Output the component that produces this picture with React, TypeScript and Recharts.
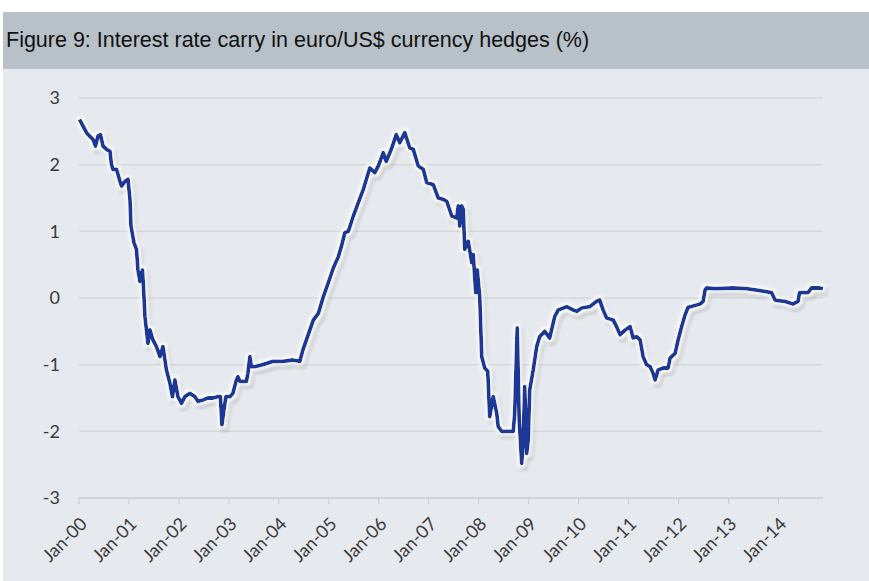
import { CartesianGrid, Line, LineChart, XAxis, YAxis } from "recharts";

// fractional years
const dates = [
  2000.01, 2000.08, 2000.15, 2000.21, 2000.28, 2000.33, 2000.38, 2000.43, 2000.48, 2000.55,
  2000.62, 2000.65, 2000.68, 2000.75, 2000.82, 2000.85, 2000.92, 2000.98, 2001.02, 2001.04,
  2001.1, 2001.15, 2001.18, 2001.22, 2001.27, 2001.29, 2001.32, 2001.35, 2001.38, 2001.42,
  2001.48, 2001.55, 2001.62, 2001.68, 2001.75, 2001.82, 2001.87, 2001.92, 2001.98, 2002.05,
  2002.12, 2002.22, 2002.32, 2002.38, 2002.48, 2002.58, 2002.68, 2002.78, 2002.83, 2002.86,
  2002.9, 2002.94, 2003.02, 2003.08, 2003.15, 2003.18, 2003.22, 2003.35, 2003.38, 2003.42,
  2003.45, 2003.52, 2003.68, 2003.88, 2004.08, 2004.28, 2004.42, 2004.48, 2004.55, 2004.69,
  2004.79, 2004.89, 2004.99, 2005.09, 2005.19, 2005.25, 2005.32, 2005.39, 2005.49, 2005.59,
  2005.69, 2005.82, 2005.92, 2005.99, 2006.09, 2006.15, 2006.25, 2006.35, 2006.42, 2006.52,
  2006.62, 2006.69, 2006.79, 2006.89, 2006.96, 2007.09, 2007.19, 2007.29, 2007.36, 2007.46,
  2007.56, 2007.59, 2007.62, 2007.66, 2007.69, 2007.72, 2007.79, 2007.86, 2007.89, 2007.94,
  2007.97, 2008.02, 2008.06, 2008.12, 2008.18, 2008.22, 2008.29, 2008.36, 2008.39, 2008.46,
  2008.56, 2008.69, 2008.72, 2008.77, 2008.81, 2008.86, 2008.89, 2008.92, 2008.96, 2008.99,
  2009.02, 2009.09, 2009.16, 2009.22, 2009.32, 2009.42, 2009.52, 2009.59, 2009.76, 2009.89,
  2009.96, 2010.06, 2010.22, 2010.36, 2010.42, 2010.49, 2010.56, 2010.69, 2010.76, 2010.83,
  2010.93, 2011.03, 2011.09, 2011.16, 2011.23, 2011.29, 2011.36, 2011.43, 2011.49, 2011.53,
  2011.59, 2011.69, 2011.79, 2011.83, 2011.93, 2011.99, 2012.06, 2012.13, 2012.19, 2012.29,
  2012.43, 2012.49, 2012.53, 2012.56, 2012.73, 2013.09, 2013.36, 2013.63, 2013.86, 2013.93,
  2013.99, 2014.13, 2014.29, 2014.39, 2014.42, 2014.59, 2014.66, 2014.82, 2014.89,
];

const carry = [
  2.68, 2.58, 2.48, 2.43, 2.38, 2.28, 2.43, 2.45, 2.28, 2.23,
  2.2, 2.0, 1.93, 1.93, 1.75, 1.68, 1.75, 1.78, 1.48, 1.08,
  0.83, 0.73, 0.42, 0.25, 0.42, 0.17, -0.28, -0.48, -0.68, -0.48,
  -0.63, -0.73, -0.88, -0.73, -1.08, -1.28, -1.48, -1.23, -1.48, -1.58,
  -1.48, -1.43, -1.48, -1.55, -1.53, -1.5, -1.5, -1.48, -1.48, -1.9,
  -1.68, -1.48, -1.48, -1.43, -1.23, -1.18, -1.25, -1.25, -1.13, -0.88,
  -1.03, -1.03, -1.0, -0.95, -0.95, -0.93, -0.95, -0.78, -0.63, -0.33,
  -0.23, 0.02, 0.23, 0.45, 0.62, 0.77, 0.98, 1.0, 1.23, 1.43,
  1.63, 1.95, 1.88, 1.98, 2.18, 2.05, 2.23, 2.45, 2.33, 2.48,
  2.25, 2.23, 1.98, 1.93, 1.73, 1.7, 1.5, 1.48, 1.45, 1.23,
  1.2, 1.38, 1.08, 1.38, 1.33, 0.73, 0.85, 0.53, 0.65, 0.08,
  0.42, 0.02, -0.88, -1.05, -1.1, -1.78, -1.48, -1.73, -1.93, -2.0,
  -2.0, -2.0, -1.73, -0.45, -1.83, -2.48, -2.13, -1.33, -2.33, -2.13,
  -1.38, -1.08, -0.73, -0.58, -0.5, -0.6, -0.28, -0.18, -0.13, -0.18,
  -0.2, -0.15, -0.13, -0.05, -0.03, -0.18, -0.3, -0.33, -0.43, -0.55,
  -0.48, -0.43, -0.6, -0.58, -0.63, -0.88, -1.0, -1.03, -1.13, -1.23,
  -1.08, -1.05, -1.05, -0.9, -0.83, -0.63, -0.43, -0.25, -0.14, -0.12,
  -0.09, -0.05, 0.12, 0.15, 0.14, 0.15, 0.14, 0.11, 0.08, -0.03,
  -0.04, -0.05, -0.09, -0.05, 0.08, 0.08, 0.15, 0.15, 0.14,
];

const yearTicks = [2000, 2001, 2002, 2003, 2004, 2005, 2006, 2007, 2008, 2009, 2010, 2011, 2012, 2013, 2014];
const valueTicks = [-3, -2, -1, 0, 1, 2, 3];

const data = dates.map((t, i) => ({ t, v: carry[i] }));

const tickFont = { fontFamily: "Lato, 'Open Sans', sans-serif", fontSize: 18, fill: "#3a3a3a" };

export default function App() {
  return (
    <div style={{ position: "fixed", left: 0, top: 0, width: 869, height: 581, background: "#fff" }}>
      <div
        style={{
          position: "absolute", left: 3, top: 12, width: 866, height: 57, background: "#b7c1c7",
          fontFamily: "'Liberation Sans', Arial, sans-serif", fontSize: 21.5, color: "#111",
          lineHeight: "57px", paddingLeft: 3, boxSizing: "border-box", whiteSpace: "nowrap",
        }}
      >
        Figure 9: Interest rate carry in euro/US$ currency hedges (%)
      </div>
      <div style={{ position: "absolute", left: 3, top: 69, width: 866, height: 512, background: "#e6e9ee" }} />
      <div style={{ position: "absolute", left: 0, top: 0 }}>
        <LineChart width={869} height={581} data={data} margin={{ top: 98, right: 46, bottom: 0, left: 0 }}>
          <defs>
            <filter id="halo" filterUnits="userSpaceOnUse" x="0" y="0" width="869" height="581">
              <feMorphology in="SourceAlpha" operator="dilate" radius="2" result="thick" />
              <feGaussianBlur in="thick" stdDeviation="1.5" result="blur" />
              <feOffset in="blur" dx="1.5" dy="2.5" result="off" />
              <feFlood floodColor="#000" floodOpacity="0.22" />
              <feComposite in2="off" operator="in" result="shadow" />
              <feFlood floodColor="#fff" floodOpacity="0.9" />
              <feComposite in2="blur" operator="in" result="glow" />
              <feMerge>
                <feMergeNode in="shadow" />
                <feMergeNode in="glow" />
                <feMergeNode in="SourceGraphic" />
              </feMerge>
            </filter>
          </defs>
          <CartesianGrid vertical={false} stroke="#d6d7d9" strokeWidth={1.5} />
          <XAxis
            dataKey="t"
            type="number"
            domain={[2000, 2014.89]}
            ticks={yearTicks}
            interval={0}
            tickFormatter={(y: number) => `Jan-${String(y % 100).padStart(2, "0")}`}
            height={83}
            angle={-45}
            textAnchor="end"
            tickMargin={12}
            tickSize={6}
            stroke="#c9cacc"
            tick={tickFont}
          />
          <YAxis
            domain={[-3, 3]}
            ticks={valueTicks}
            width={79}
            axisLine={false}
            tickLine={false}
            tickMargin={13}
            tick={tickFont}
          />
          <Line
            type="linear"
            dataKey="v"
            stroke="#1c3797"
            strokeWidth={3.8}
            dot={false}
            filter="url(#halo)"
            strokeLinejoin="round"
            isAnimationActive={false}
          />
        </LineChart>
      </div>
    </div>
  );
}
